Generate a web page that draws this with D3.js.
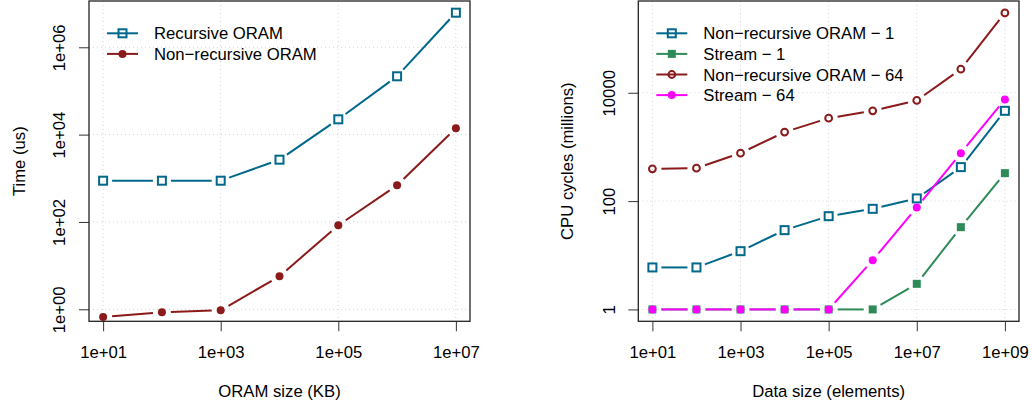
<!DOCTYPE html>
<html><head><meta charset="utf-8">
<script src="https://cdn.jsdelivr.net/npm/d3@7"></script>
<style>
body{margin:0;background:#fff;}
text{font-family:"Liberation Sans",Arial,Helvetica,sans-serif;font-size:16.7px;fill:#000;}
</style></head>
<body><svg id="c" width="1032" height="409"></svg>
<script>
// ---- data ----
const leftX = [1e1, 1e2, 1e3, 1e4, 1e5, 1e6, 1e7];
const recursiveORAM = [881, 881, 881, 2667, 22400, 216700, 6200000];
const nonRecursiveORAM = [0.667, 0.853, 0.95, 5.7, 83.8, 692, 13970];
const leftXTicks = [1e1, 1e3, 1e5, 1e7];
const leftXTickLabels = ["1e+01", "1e+03", "1e+05", "1e+07"];
const leftYTicks = [1e0, 1e2, 1e4, 1e6];
const leftYTickLabels = ["1e+00", "1e+02", "1e+04", "1e+06"];
const leftXDomain = [Math.pow(10, 0.76), Math.pow(10, 7.24)];
const leftYDomain = [Math.pow(10, -0.275), Math.pow(10, 7.06)];

const rightX = [1e1, 1e2, 1e3, 1e4, 1e5, 1e6, 1e7, 1e8, 1e9];
const nonRecursive1 = [5.96, 5.96, 11.9, 29.1, 52.7, 72, 112, 424, 4640];
const stream1 = [1, 1, 1, 1, 1, 1, 2.97, 33, 328];
const nonRecursive64 = [394, 406, 768, 1877, 3400, 4640, 7210, 27300, 298000];
const stream64 = [1, 1, 1, 1, 1, 8.1, 76.4, 768, 7530];
const rightXTicks = [1e1, 1e3, 1e5, 1e7, 1e9];
const rightXTickLabels = ["1e+01", "1e+03", "1e+05", "1e+07", "1e+09"];
const rightYTicks = [1, 100, 10000];
const rightYTickLabels = ["1", "100", "10000"];
const rightXDomain = [Math.pow(10, 0.68), Math.pow(10, 9.32)];
const rightYDomain = [Math.pow(10, -0.219), Math.pow(10, 5.694)];

const BLUE = "#00688B", DARKRED = "#8B1A1A", GREEN = "#2E8B57", MAGENTA = "#FF00FF";
const FONT = "16.7px";

const svg = d3.select("#c");

function marker(g, type, color, x, y) {
  if (type === "square") {
    g.append("rect").attr("x", x - 4).attr("y", y - 4).attr("width", 8).attr("height", 8)
      .attr("fill", "none").attr("stroke", color).attr("stroke-width", 2);
  } else if (type === "fsquare") {
    g.append("rect").attr("x", x - 4).attr("y", y - 4).attr("width", 8).attr("height", 8)
      .attr("fill", color);
  } else if (type === "circle") {
    g.append("circle").attr("cx", x).attr("cy", y).attr("r", 3.4)
      .attr("fill", "none").attr("stroke", color).attr("stroke-width", 2);
  } else {
    g.append("circle").attr("cx", x).attr("cy", y).attr("r", 4).attr("fill", color);
  }
}

function panel(opt) {
  const x = d3.scaleLog().domain(opt.xDomain).range([opt.left, opt.right]);
  const y = d3.scaleLog().domain(opt.yDomain).range([opt.bottom, opt.top]);
  const g = svg.append("g");
  // grid
  g.selectAll(".gx").data(opt.xTicks).enter().append("line")
    .attr("x1", d => x(d)).attr("x2", d => x(d)).attr("y1", opt.top).attr("y2", opt.bottom)
    .attr("stroke", "#d3d3d3").attr("stroke-dasharray", "1,3");
  g.selectAll(".gy").data(opt.yTicks).enter().append("line")
    .attr("y1", d => y(d)).attr("y2", d => y(d)).attr("x1", opt.left).attr("x2", opt.right)
    .attr("stroke", "#d3d3d3").attr("stroke-dasharray", "1,3");
  // axes
  const xa = d3.axisBottom(x).tickValues(opt.xTicks).tickSize(10).tickFormat((d, i) => opt.xLabels[i]);
  const ax = g.append("g").attr("transform", `translate(0,${opt.bottom})`).call(xa);
  ax.select(".domain").remove();
  ax.selectAll(".tick line").attr("stroke", "#333");
  ax.selectAll(".tick text").attr("dy", null).attr("y", 36.8).style("font-size", FONT)
    .style("font-family", "Liberation Sans, Arial, sans-serif").attr("fill", "#000");
  const ya = d3.axisLeft(y).tickValues(opt.yTicks).tickSize(10).tickFormat((d, i) => opt.yLabels[i]);
  const ay = g.append("g").attr("transform", `translate(${opt.left},0)`).call(ya);
  ay.select(".domain").remove();
  ay.selectAll(".tick line").attr("stroke", "#333");
  ay.selectAll(".tick text").attr("x", null).attr("dy", null)
    .attr("text-anchor", "middle").attr("transform", `translate(${-opt.yLabelOff},0) rotate(-90)`)
    .style("font-size", FONT).style("font-family", "Liberation Sans, Arial, sans-serif").attr("fill", "#000");
  // box
  g.append("rect").attr("x", opt.left).attr("y", opt.top)
    .attr("width", opt.right - opt.left).attr("height", opt.bottom - opt.top)
    .attr("fill", "none").attr("stroke", "#222").attr("stroke-width", 1.3);
  // titles
  g.append("text").attr("x", (opt.left + opt.right) / 2).attr("y", 397).attr("text-anchor", "middle").text(opt.xTitle);
  g.append("text").attr("transform", `translate(${opt.yTitleX},${(opt.top + opt.bottom) / 2}) rotate(-90)`)
    .attr("text-anchor", "middle").text(opt.yTitle);
  // series
  const gap = 9;
  opt.series.forEach(s => {
    const pts = opt.xs.map((xv, i) => [x(xv), y(s.values[i])]);
    const sg = g.append("g");
    for (let i = 0; i < pts.length - 1; i++) {
      const [x0, y0] = pts[i], [x1, y1] = pts[i + 1];
      const dx = x1 - x0, dy = y1 - y0, d = Math.hypot(dx, dy);
      if (d > 2 * gap) {
        sg.append("line")
          .attr("x1", x0 + gap * dx / d).attr("y1", y0 + gap * dy / d)
          .attr("x2", x1 - gap * dx / d).attr("y2", y1 - gap * dy / d)
          .attr("stroke", s.color).attr("stroke-width", 2);
      }
    }
    pts.forEach(p => marker(sg, s.marker, s.color, p[0], p[1]));
  });
  // legend
  opt.series.forEach((s, i) => {
    const ly = opt.top + 32.3 + i * 20.6;
    const lx = opt.left + 18;
    g.append("line").attr("x1", lx).attr("x2", lx + 31).attr("y1", ly).attr("y2", ly)
      .attr("stroke", s.color).attr("stroke-width", 2);
    marker(g, s.marker, s.color, lx + 15.5, ly);
    g.append("text").attr("x", lx + 47).attr("y", ly + 6).text(s.name);
  });
}

panel({
  left: 89, right: 470, top: 1, bottom: 321.3,
  xDomain: leftXDomain, yDomain: leftYDomain,
  xTicks: leftXTicks, xLabels: leftXTickLabels, yTicks: leftYTicks, yLabels: leftYTickLabels,
  yLabelOff: 24, yTitleX: 24.5,
  xTitle: "ORAM size (KB)", yTitle: "Time (us)", xs: leftX,
  series: [
    {name: "Recursive ORAM", values: recursiveORAM, color: BLUE, marker: "square"},
    {name: "Non\u2212recursive ORAM", values: nonRecursiveORAM, color: DARKRED, marker: "fcircle"}
  ]
});

panel({
  left: 638.3, right: 1019, top: 1, bottom: 321.3,
  xDomain: rightXDomain, yDomain: rightYDomain,
  xTicks: rightXTicks, xLabels: rightXTickLabels, yTicks: rightYTicks, yLabels: rightYTickLabels,
  yLabelOff: 23.5, yTitleX: 573,
  xTitle: "Data size (elements)", yTitle: "CPU cycles (millions)", xs: rightX,
  series: [
    {name: "Non\u2212recursive ORAM \u2212 1", values: nonRecursive1, color: BLUE, marker: "square"},
    {name: "Stream \u2212 1", values: stream1, color: GREEN, marker: "fsquare"},
    {name: "Non\u2212recursive ORAM \u2212 64", values: nonRecursive64, color: DARKRED, marker: "circle"},
    {name: "Stream \u2212 64", values: stream64, color: MAGENTA, marker: "fcircle"}
  ]
});
</script></body></html>
